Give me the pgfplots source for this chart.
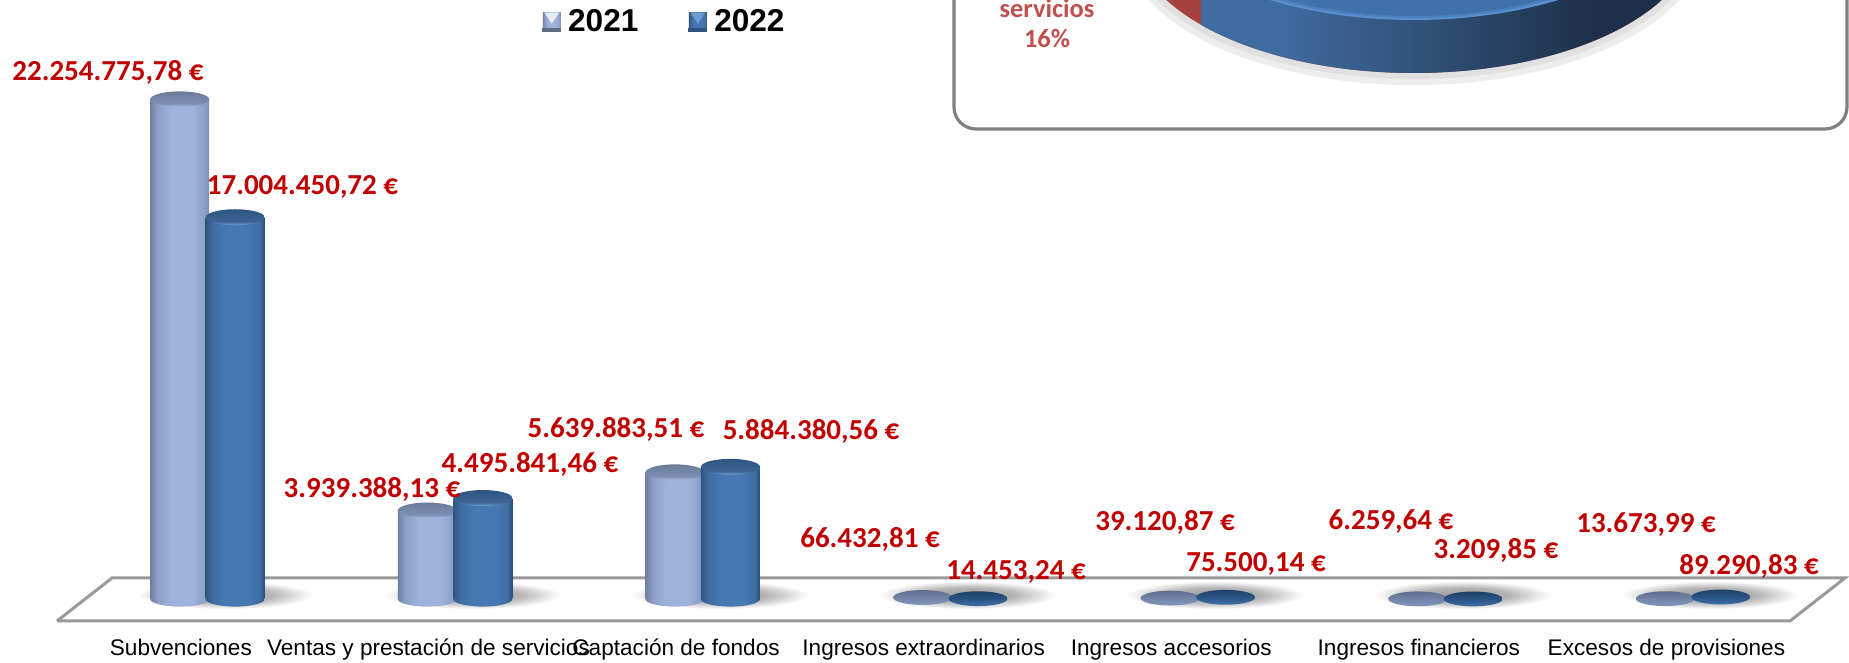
\documentclass[border=0pt]{standalone}
\usepackage{pgfplots}
\usepackage{pgfplotstable}
\usepackage{fontspec}
\pgfplotsset{compat=1.18}
\setmainfont{Liberation Sans}
\newfontfamily\carlito{Carlito}
\definecolor{lab}{HTML}{C00000}
\definecolor{pielab}{HTML}{C0504D}
\definecolor{Aa}{HTML}{6F7F9E}\definecolor{Ab}{HTML}{8C9EC6}\definecolor{Ac}{HTML}{9EB2DC}\definecolor{Ad}{HTML}{7E8DAE}
\definecolor{Ba}{HTML}{2F5480}\definecolor{Bb}{HTML}{3F6DA3}\definecolor{Bc}{HTML}{4678B2}\definecolor{Bd}{HTML}{2C4D75}
\definecolor{Ta}{HTML}{6A7B9A}\definecolor{Tb}{HTML}{7D8FB2}\definecolor{Tc}{HTML}{AEBFE2}
\definecolor{Ua}{HTML}{2E5580}\definecolor{Ub}{HTML}{3A6595}\definecolor{Uc}{HTML}{6E9DD3}
\definecolor{Fa}{HTML}{5E6E8E}\definecolor{Fb}{HTML}{7185A9}\definecolor{Fc}{HTML}{8296BC}
\definecolor{Ga}{HTML}{1F4068}\definecolor{Gb}{HTML}{2B5484}\definecolor{Gc}{HTML}{3F6FA6}
\definecolor{Sa}{HTML}{9A9A9A}\definecolor{Sb}{HTML}{B4B4B4}
\definecolor{Pa}{HTML}{3F6C9F}\definecolor{Pb}{HTML}{2F4F75}\definecolor{Pc}{HTML}{1E3049}
\definecolor{Pred}{HTML}{A5423F}\definecolor{Prim}{HTML}{5A8FD0}\definecolor{Prim2}{HTML}{4C7FBE}\definecolor{Ptop}{HTML}{4272AD}
\pgfdeclarehorizontalshading{barA}{100bp}{color(0bp)=(Aa);color(25bp)=(Aa);color(31bp)=(Ab);color(42bp)=(Ac);color(62bp)=(Ac);color(71bp)=(Ab);color(75bp)=(Ad);color(100bp)=(Ad)}
\pgfdeclarehorizontalshading{barB}{100bp}{color(0bp)=(Ba);color(25bp)=(Ba);color(31bp)=(Bb);color(42bp)=(Bc);color(62bp)=(Bc);color(71bp)=(Bb);color(75bp)=(Bd);color(100bp)=(Bd)}
\pgfdeclareverticalshading{topA}{100bp}{color(0bp)=(Tc);color(25bp)=(Tc);color(37bp)=(Tb);color(75bp)=(Ta);color(100bp)=(Ta)}
\pgfdeclareverticalshading{topB}{100bp}{color(0bp)=(Uc);color(25bp)=(Uc);color(37bp)=(Ub);color(75bp)=(Ua);color(100bp)=(Ua)}
\pgfdeclareverticalshading{flatA}{100bp}{color(0bp)=(Fc);color(25bp)=(Fc);color(50bp)=(Fb);color(75bp)=(Fa);color(100bp)=(Fa)}
\pgfdeclareverticalshading{flatB}{100bp}{color(0bp)=(Gc);color(25bp)=(Gc);color(50bp)=(Gb);color(75bp)=(Ga);color(100bp)=(Ga)}
\pgfdeclareradialshading{floorshadow}{\pgfpointorigin}{color(0bp)=(Sa);color(13bp)=(Sb);color(25bp)=(white);color(50bp)=(white)}
\pgfdeclarehorizontalshading{pieside}{100bp}{color(0bp)=(Pa);color(25bp)=(Pa);color(38bp)=(Pa);color(52bp)=(Pb);color(66bp)=(Pc);color(75bp)=(Pc);color(100bp)=(Pc)}
\tikzset{O/.style={draw=none,fill=none}}
\pgfdeclareplotmark{bota}{\path[O,shade,shading=barA,rotate=8] (canvas cs:x=0pt,y=0pt) ellipse (14.75pt and 3.8pt);}
\pgfdeclareplotmark{botb}{\path[O,shade,shading=barB,rotate=8] (canvas cs:x=0pt,y=0pt) ellipse (14.75pt and 3.8pt);}
\pgfdeclareplotmark{topa}{\path[O,shade,shading=topA,rotate=8] (canvas cs:x=0pt,y=0pt) ellipse (14.75pt and 4pt);}
\pgfdeclareplotmark{topb}{\path[O,shade,shading=topB,rotate=8] (canvas cs:x=0pt,y=0pt) ellipse (14.75pt and 4pt);}
\pgfdeclareplotmark{flata}{\path[O,shade,shading=flatA,rotate=8] (canvas cs:x=0pt,y=0pt) ellipse (14.75pt and 3.7pt);}
\pgfdeclareplotmark{flatb}{\path[O,shade,shading=flatB,rotate=8] (canvas cs:x=0pt,y=0pt) ellipse (14.75pt and 3.7pt);}
\pgfdeclareplotmark{fshadow}{\path[O,shade,shading=floorshadow] (canvas cs:x=0pt,y=0pt) ellipse (44pt and 7pt);}
\pgfplotstableread{
idx v21 v22
0 22254775.78 17004450.72
1 3939388.13 4495841.46
2 5639883.51 5884380.56
3 66432.81 14453.24
4 39120.87 75500.14
5 6259.64 3209.85
6 13673.99 89290.83
}\ingresos
\pgfplotsset{
  barA/.style={ybar,bar width=0.238,bar shift=-0.112,draw=none,shade,shading=barA,forget plot},
  barB/.style={ybar,bar width=0.238,bar shift=0.112,draw=none,shade,shading=barB,forget plot},
  dataaxis/.style={at={(0pt,14pt)},anchor=south west,scale only axis,width=924.5pt,height=317.5pt,
    xmin=-0.838,xmax=6.630,ymin=-1603600,ymax=26682000,
    axis line style={draw=none},tick style={draw=none},ytick=\empty},
}
\begin{document}
\begin{tikzpicture}[x=1pt,y=1pt]
\path[use as bounding box] (0pt,0pt) rectangle (924.5pt,331.5pt);
% decoration in pixel coordinates
\begin{axis}[at={(0pt,0pt)},anchor=south west,scale only axis,width=924.5pt,height=331.5pt,
  xmin=0,xmax=1849,ymin=0,ymax=663,y dir=reverse,hide axis]
% floor
\addplot[draw=black!40,line width=1.5pt,fill=white,line join=miter,forget plot] coordinates {(57,621)(1790,621)(1845,578)(112,578)(57,621)};
% floor shadows of the seven groups
\addplot[only marks,mark=fshadow,forget plot] table[x expr=207.5+247.6*(\thisrow{idx}+0.07),y expr=595] {\ingresos};
% panel
\draw[draw=black!50,line width=1.6pt,fill=white,rounded corners=11pt] (axis cs:954,-40) -- (axis cs:954,129) -- (axis cs:1847,129) -- (axis cs:1847,-40) -- cycle;
% pie
\fill[black!7] (axis cs:1414,-58) ellipse [x radius=290,y radius=143];
\fill[black!12] (axis cs:1414,-62) ellipse [x radius=286,y radius=141];
\fill[Pred] (axis cs:1414,-67) ellipse [x radius=282,y radius=140];
\begin{scope}
\clip (axis cs:1201,-10) rectangle (axis cs:1849,100);
\path[shade,shading=pieside] (axis cs:1414,-67) ellipse [x radius=282,y radius=140];
\end{scope}
\fill[Prim] (axis cs:1414,-120) ellipse [x radius=280,y radius=140];
\fill[Prim2] (axis cs:1414,-122) ellipse [x radius=277,y radius=140];
\fill[Ptop] (axis cs:1414,-124) ellipse [x radius=274,y radius=140];
\end{axis}
% data: 2021
\begin{axis}[dataaxis,
  xtick={0,1,2,3,4,5,6},
  xticklabels={Subvenciones,Ventas y prestación de servicios,Captación de fondos,Ingresos extraordinarios,Ingresos accesorios,Ingresos financieros,Excesos de provisiones},
  xticklabel style={font=\fontsize{11.3}{13}\selectfont,anchor=base,xshift=-13.3pt,yshift=-10.5pt},
  ]
\addplot[only marks,mark=bota,forget plot,restrict x to domain=-1:2.5] table[x expr=\thisrow{idx}-0.112,y expr=0] {\ingresos};
\addplot[barA,restrict x to domain=-0.5:0.5] table[x=idx,y=v21] {\ingresos};
\addplot[barA,restrict x to domain=0.5:1.5] table[x=idx,y=v21] {\ingresos};
\addplot[barA,restrict x to domain=1.5:2.5] table[x=idx,y=v21] {\ingresos};
\addplot[only marks,mark=topa,forget plot,restrict x to domain=-1:2.5] table[x expr=\thisrow{idx}-0.112,y=v21] {\ingresos};
\addplot[only marks,mark=flata,forget plot,restrict x to domain=2.5:7] table[x expr=\thisrow{idx}-0.112,y=v21] {\ingresos};
\end{axis}
% data: 2022
\begin{axis}[dataaxis,xtick=\empty]
\addplot[only marks,mark=botb,forget plot,restrict x to domain=-1:2.5] table[x expr=\thisrow{idx}+0.112,y expr=0] {\ingresos};
\addplot[barB,restrict x to domain=-0.5:0.5] table[x=idx,y=v22] {\ingresos};
\addplot[barB,restrict x to domain=0.5:1.5] table[x=idx,y=v22] {\ingresos};
\addplot[barB,restrict x to domain=1.5:2.5] table[x=idx,y=v22] {\ingresos};
\addplot[only marks,mark=topb,forget plot,restrict x to domain=-1:2.5] table[x expr=\thisrow{idx}+0.112,y=v22] {\ingresos};
\addplot[only marks,mark=flatb,forget plot,restrict x to domain=2.5:7] table[x expr=\thisrow{idx}+0.112,y=v22] {\ingresos};
\end{axis}
% labels
\begin{axis}[at={(0pt,0pt)},anchor=south west,scale only axis,width=924.5pt,height=331.5pt,
  xmin=0,xmax=1849,ymin=0,ymax=663,y dir=reverse,hide axis,
  legend style={at={(0.2931,0.9668)},anchor=west,draw=none,fill=none,legend columns=2,inner sep=0pt,
    font=\fontsize{15.8}{17}\selectfont\bfseries,
    /tikz/every even column/.append style={column sep=23pt},
    /tikz/every odd column/.append style={column sep=1.5pt}},
  ]
\addlegendimage{legend image code/.code={
  \path[O,shade,shading=barA] (canvas cs:x=0pt,y=-4.6pt) rectangle (canvas cs:x=9pt,y=4.9pt);
  \fill[Aa!85!black] (canvas cs:x=0pt,y=-4.6pt) rectangle (canvas cs:x=9pt,y=-3.4pt);
  \fill[white!75!Ac] (canvas cs:x=1.2pt,y=4.5pt) -- (canvas cs:x=7.8pt,y=4.5pt) -- (canvas cs:x=4.5pt,y=-0.5pt) -- cycle;}}
\addlegendentry{2021}
\addlegendimage{legend image code/.code={
  \path[O,shade,shading=barB] (canvas cs:x=0pt,y=-4.6pt) rectangle (canvas cs:x=9pt,y=4.9pt);
  \fill[Ba] (canvas cs:x=0pt,y=-4.6pt) rectangle (canvas cs:x=9pt,y=-3.4pt);
  \fill[Uc] (canvas cs:x=1.2pt,y=4.5pt) -- (canvas cs:x=7.8pt,y=4.5pt) -- (canvas cs:x=4.5pt,y=-0.5pt) -- cycle;}}
\addlegendentry{2022}
\tikzset{lb/.style={text=lab,font=\carlito\bfseries\fontsize{14.5}{16}\selectfont,anchor=center,inner sep=0pt}}
\node[lb] at (axis cs:108,72) {22.254.775,78 €};
\node[lb] at (axis cs:302.5,187) {17.004.450,72 €};
\node[lb] at (axis cs:372,489) {3.939.388,13 €};
\node[lb] at (axis cs:530,464) {4.495.841,46 €};
\node[lb] at (axis cs:616,429) {5.639.883,51 €};
\node[lb] at (axis cs:811,431.5) {5.884.380,56 €};
\node[lb] at (axis cs:870,539) {66.432,81 €};
\node[lb] at (axis cs:1016,572) {14.453,24 €};
\node[lb] at (axis cs:1165,522) {39.120,87 €};
\node[lb] at (axis cs:1256,564) {75.500,14 €};
\node[lb] at (axis cs:1391,522) {6.259,64 €};
\node[lb] at (axis cs:1496,550) {3.209,85 €};
\node[lb] at (axis cs:1646,525) {13.673,99 €};
\node[lb] at (axis cs:1749,566) {89.290,83 €};
\tikzset{pl/.style={text=pielab,font=\carlito\bfseries\fontsize{13.2}{15}\selectfont,anchor=center,inner sep=0pt}}
\node[pl] at (axis cs:1047,8) {servicios};
\node[pl] at (axis cs:1047,39) {16\%};
\end{axis}
\end{tikzpicture}
\end{document}
